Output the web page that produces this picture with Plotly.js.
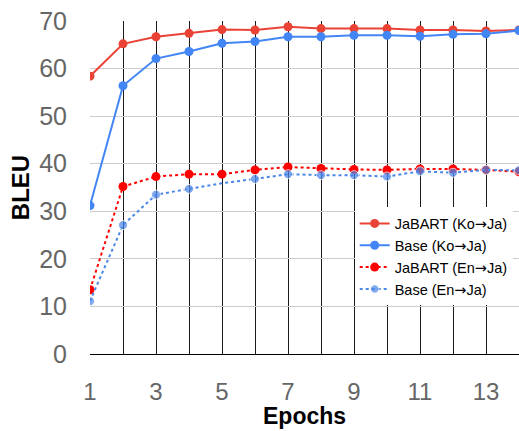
<!DOCTYPE html>
<html>
<head>
<meta charset="utf-8">
<script src="https://cdn.plot.ly/plotly-3.0.1.min.js"></script>
<style>html,body{margin:0;padding:0;background:#fff;}#chart{width:519px;height:431px;}</style>
</head>
<body>
<div id="chart"></div>
<script>
const epochs = [1,2,3,4,5,6,7,8,9,10,11,12,13,14];
const jabartKoJa = [58.4,65.2,66.7,67.4,68.2,68.1,68.8,68.4,68.4,68.4,68.1,68.1,67.9,68.1];
const baseKoJa   = [31.2,56.4,62.1,63.6,65.3,65.7,66.7,66.7,67.0,67.0,66.8,67.2,67.3,68.0];
const jabartEnJa = [13.5,35.2,37.3,37.8,37.8,38.7,39.3,39.0,38.8,38.7,38.9,38.9,38.7,38.3];
const baseEnJa   = [11.1,27.1,33.5,34.7,35.9,36.8,37.8,37.6,37.6,37.3,38.4,38.1,38.7,38.6];
const arrow = '<span style="font-family:\'DejaVu Sans\'">\u2192</span>';
const seriesNames = ['JaBART (Ko'+arrow+'Ja)','Base (Ko'+arrow+'Ja)','JaBART (En'+arrow+'Ja)','Base (En'+arrow+'Ja)'];
const xTickVals = [1,2,3,4,5,6,7,8,9,10,11,12,13,14];
const xTickText = ['1','','3','','5','','7','','9','','11','','13',''];
const yTickVals = [0,10,20,30,40,50,60,70];
const xTitle = 'Epochs';
const yTitle = 'BLEU';

const font = 'Arial, "Liberation Sans", sans-serif';
const baseEnMarkerSizes = epochs.map((e,i)=> i===4 ? 0 : 9);

const traces = [
  {x: epochs, y: jabartKoJa, name: seriesNames[0], mode:'lines+markers',
   line:{color:'#ea4335', width:2}, marker:{color:'#ea4335', size:9}},
  {x: epochs, y: baseKoJa, name: seriesNames[1], mode:'lines+markers',
   line:{color:'#4285f4', width:2}, marker:{color:'#4285f4', size:9}},
  {x: epochs, y: jabartEnJa, name: seriesNames[2], mode:'lines+markers',
   line:{color:'#ff0000', width:2, dash:'dot'}, marker:{color:'#ff0000', size:9}},
  {x: epochs, y: baseEnJa, name: seriesNames[3], mode:'lines+markers',
   line:{color:'#4a86e8', width:2, dash:'dot'}, marker:{color:'#4a86e8', size:baseEnMarkerSizes}}
];

const layout = {
  width: 519, height: 431,
  margin: {l:90, r:0, t:21, b:77, pad:0},
  paper_bgcolor:'#fff', plot_bgcolor:'#fff',
  font: {family: font, color:'#000'},
  showlegend: true,
  legend: {x:0.617, y:0.44, xanchor:'left', yanchor:'top', bgcolor:'#fff',
    font:{family:font, size:14.5, color:'#000'}, itemwidth:30, borderwidth:0},
  xaxis: {range:[1,14], tickmode:'array', tickvals:xTickVals, ticktext:xTickText,
    showgrid:true, gridcolor:'#1a1a1a', gridwidth:1, zeroline:false,
    showline:true, linecolor:'#000', linewidth:1,
    ticks:'', ticklabelstandoff:16,
    tickfont:{family:font, size:24, color:'#666'}},
  yaxis: {range:[0,70], tickmode:'array', tickvals:yTickVals,
    showgrid:true, gridcolor:'#cccccc', gridwidth:1, zeroline:false,
    showline:false, ticks:'', ticklabelstandoff:22,
    tickfont:{family:font, size:25, color:'#666'},
    title:{text:'<b>'+yTitle+'</b>', font:{family:font, size:24, color:'#000'}, standoff:2}},
  annotations: [
    {text:'<b>'+xTitle+'</b>', xref:'paper', yref:'paper', x:0.5, y:-0.185, xanchor:'center', yanchor:'middle',
     showarrow:false, font:{family:font, size:23, color:'#000'}}
  ]
};

Plotly.newPlot('chart', traces, layout, {displayModeBar:false, staticPlot:true});
</script>
</body>
</html>
